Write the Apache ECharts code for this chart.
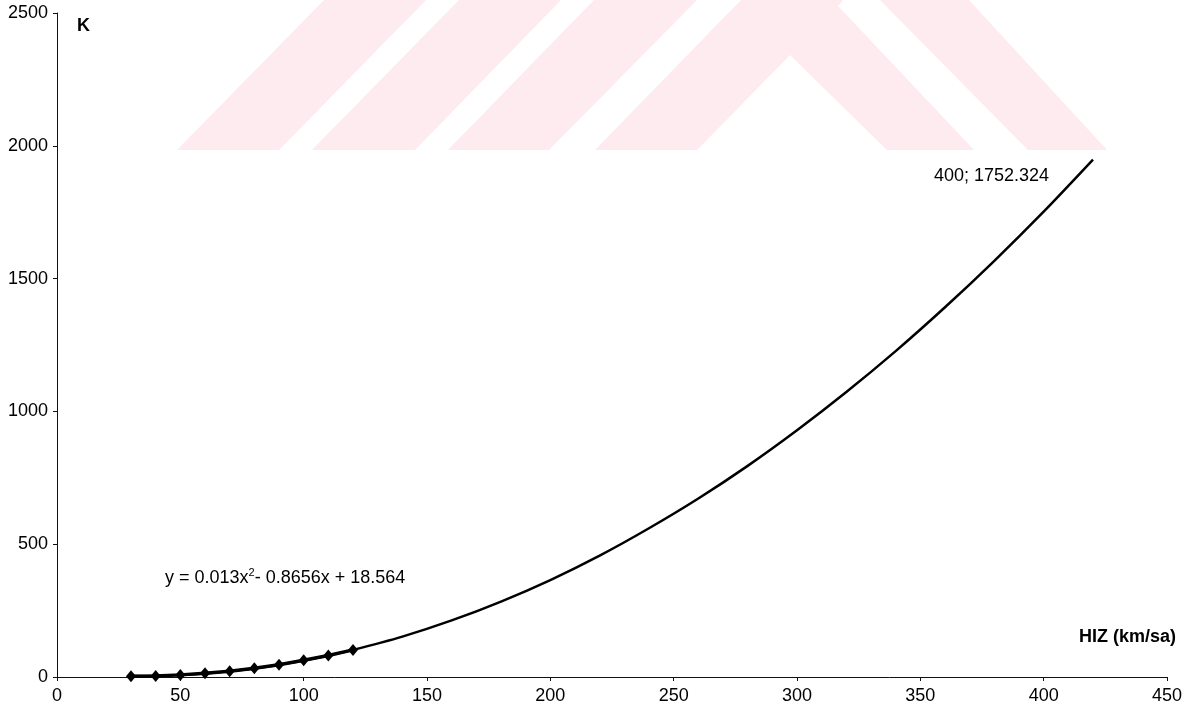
<!DOCTYPE html>
<html>
<head>
<meta charset="utf-8">
<script src="https://cdn.jsdelivr.net/npm/echarts@6/dist/echarts.min.js"></script>
<style>
    html, body { margin: 0; padding: 0; background: #fff; }
    #chart { width: 1194px; height: 715px; }
</style>
</head>
<body>
<div id="chart"></div>
<script type="text/javascript">
    // olcum noktalari (HIZ km/sa, K)
    var hiz = [30, 40, 50, 60, 70, 80, 90, 100, 110, 120];
    var kDeger = [3, 4, 8, 14, 22, 33, 46, 63, 81, 102];

    // egilim cizgisi
    var trendHiz = [30, 40, 50, 60, 70, 80, 90, 100, 110, 120, 140, 160, 180, 200, 220, 240, 260, 280, 300, 320, 340, 360, 380, 400, 420];
    var trendK = [4, 5, 8, 13, 22, 32, 46, 62, 81, 102, 152, 213, 284, 365, 457, 560, 672, 795, 929, 1073, 1227, 1392, 1567, 1752, 1948];

    var xTicks = [0, 50, 100, 150, 200, 250, 300, 350, 400, 450];
    var yTicks = [0, 500, 1000, 1500, 2000, 2500];

    var font = '"Liberation Sans", Arial, sans-serif';

    function pairs(xs, ys) {
        var out = [];
        for (var i = 0; i < xs.length; i++) {
            out.push([xs[i], ys[i]]);
        }
        return out;
    }

    // arka plandaki soluk filigran
    var pink = '#fdebef';
    var filigran = [
        [[177, 150], [279, 150], [426, 0], [324, 0]],
        [[312, 150], [415, 150], [561, 0], [459, 0]],
        [[448, 150], [549, 150], [697, 0], [594, 0]],
        [[595, 150], [697, 150], [790, 55], [887, 150], [974, 150], [838, 6], [843, 0], [741, 0]],
        [[880, 0], [969, 0], [1107, 150], [1028, 150]]
    ];
    var graphics = filigran.map(function (pts) {
        return { type: 'polygon', z: -10, shape: { points: pts }, style: { fill: pink }, silent: true };
    });

    graphics.push({
        type: 'text', left: 77, top: 17,
        style: { text: 'K', font: 'bold 18px ' + font, fill: '#000' }
    });
    graphics.push({
        type: 'text', left: 1079, top: 628,
        style: { text: 'HIZ (km/sa)', font: 'bold 18px ' + font, fill: '#000' }
    });
    graphics.push({
        type: 'text', left: 934, top: 167,
        style: { text: '400; 1752.324', font: '18px ' + font, fill: '#000' }
    });
    graphics.push({
        type: 'text', left: 165, top: 567,
        style: {
            text: '{a|y = 0.013x}{s|2}{a|- 0.8656x + 18.564}',
            rich: {
                a: { fontSize: 18, fontFamily: font, fill: '#000', lineHeight: 22 },
                s: { fontSize: 11, fontFamily: font, fill: '#000', padding: [0, 0, 12, 0], lineHeight: 22 }
            }
        }
    });

    var myChart = echarts.init(document.getElementById('chart'));
    var option = {
        backgroundColor: '#fff',
        animation: false,
        grid: { left: 57, right: 27, top: 13, bottom: 38, containLabel: false },
        xAxis: {
            type: 'value',
            min: xTicks[0],
            max: xTicks[xTicks.length - 1],
            interval: 50,
            splitLine: { show: false },
            axisLine: { onZero: false, lineStyle: { color: '#111', width: 1 } },
            axisTick: { show: true, inside: false, length: 4, lineStyle: { color: '#111' } },
            axisLabel: {
                color: '#000', fontSize: 18, fontFamily: font, margin: 10,
                formatter: function (v) { return String(v); }
            }
        },
        yAxis: {
            type: 'value',
            min: yTicks[0],
            max: yTicks[yTicks.length - 1],
            interval: 500,
            splitLine: { show: false },
            axisLine: { show: true, lineStyle: { color: '#111', width: 1 } },
            axisTick: { show: true, inside: false, length: 4, lineStyle: { color: '#111' } },
            axisLabel: {
                color: '#000', fontSize: 18, fontFamily: font, margin: 9,
                formatter: function (v) { return String(v); }
            }
        },
        graphic: graphics,
        series: [
            {
                name: 'trend',
                type: 'line',
                data: pairs(trendHiz, trendK),
                smooth: 0.3,
                showSymbol: false,
                symbol: 'none',
                lineStyle: { color: '#000', width: 2.5 },
                z: 2
            },
            {
                name: 'K',
                type: 'line',
                data: pairs(hiz, kDeger),
                symbol: 'diamond',
                symbolSize: [10, 12],
                itemStyle: { color: '#000' },
                lineStyle: { color: '#000', width: 3.5 },
                z: 3
            }
        ]
    };
    myChart.setOption(option);
</script>
</body>
</html>
